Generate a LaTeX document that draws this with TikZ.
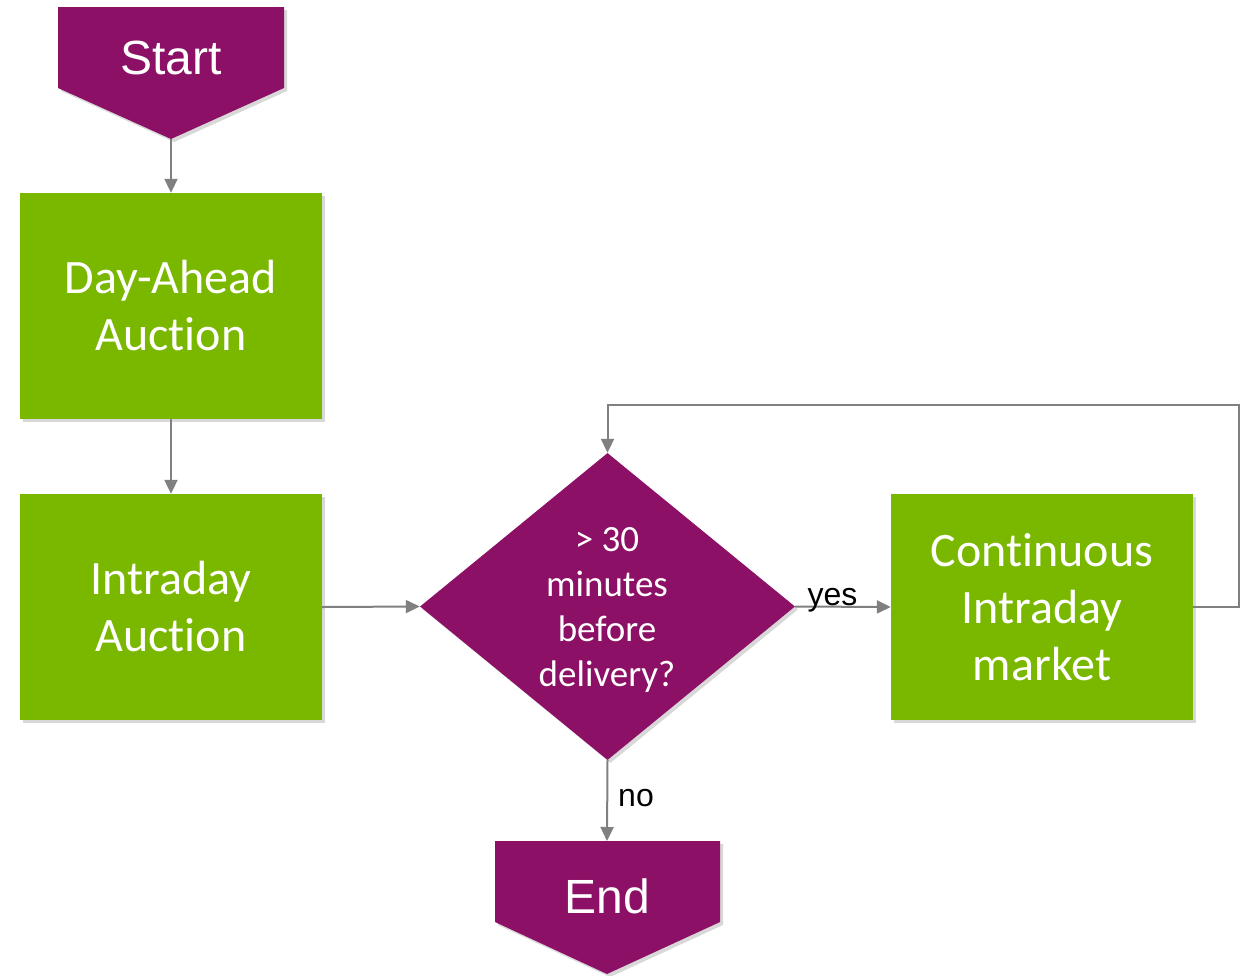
\documentclass[tikz,border=0pt]{standalone}
\usepackage{fontspec}
\setmainfont{Carlito}[Ligatures=NoCommon]
\newfontfamily\arialfont{Liberation Sans}
\usetikzlibrary{shapes.geometric,arrows.meta,shadows}
\definecolor{flowpurple}{RGB}{140,16,102}
\definecolor{flowgreen}{RGB}{122,184,0}
\definecolor{linkgray}{RGB}{128,128,128}
\tikzset{
  softshadow/.style={drop shadow={shadow xshift=3pt,shadow yshift=-3pt,opacity=0.22,fill=black!70}},
  procbox/.style={rectangle,fill=flowgreen,minimum width=302pt,minimum height=226pt,
    inner sep=0pt,text=white,align=center,font=\fontsize{48}{57}\selectfont,softshadow},
  terminal/.style={fill=flowpurple,softshadow},
  termtext/.style={text=white,font=\arialfont\fontsize{48}{55}\selectfont,inner sep=0pt},
  decision/.style={diamond,fill=flowpurple,minimum width=375pt,minimum height=307pt,
    inner sep=0pt,softshadow},
  decisiontext/.style={text=white,align=center,font=\fontsize{37}{45}\selectfont,inner sep=0pt},
  link/.style={draw=linkgray,line width=2pt,-{Triangle[length=14pt,width=13pt]}},
  linklabel/.style={font=\arialfont\fontsize{32}{36}\selectfont,text=black,inner sep=0pt},
}
\begin{document}
\begin{tikzpicture}[x=1pt,y=-1pt]
\useasboundingbox (0,0) rectangle (1240,975);

% start terminal
\path[terminal] (58,7) -- (284,7) -- (284,88) -- (171,139) -- (58,88) -- cycle;
\coordinate (starttip) at (171,139);
\node[termtext] (start) at (171,58) {Start};

% process boxes
\node[procbox] (dayahead) at (171,306) {Day-Ahead\\Auction};
\node[procbox] (intraday) at (171,607) {Intraday\\Auction};
\node[procbox] (cont) at (1042,607) {Continuous\\Intraday\\market};

% decision
\node[decision] (check) at (607.5,606.5) {};
\node[decisiontext] (checktext) at (607,610) {> 30\\minutes\\before\\delivery?};

% end terminal
\path[terminal] (495,841) -- (720,841) -- (720,922) -- (607,974) -- (495,922) -- cycle;
\coordinate (endtop) at (607,841);
\node[termtext] (end) at (607,896) {End};

% connectors
\draw[link] (starttip) -- (dayahead.north);
\draw[link] (dayahead.south) -- (intraday.north);
\draw[link] (intraday.east) -- (check.west);
\draw[link] (check.east) -- node[linklabel,anchor=base,pos=0.39,yshift=1pt] (yes) {yes} (cont.west);
\draw[link] (check.south) -- node[linklabel,anchor=base west,pos=0.57,xshift=10pt] (no) {no} (endtop);
\coordinate (loopcorner) at (1239,405);
\draw[link] (cont.east) -| (loopcorner) -| (check.north);
\end{tikzpicture}
\end{document}
